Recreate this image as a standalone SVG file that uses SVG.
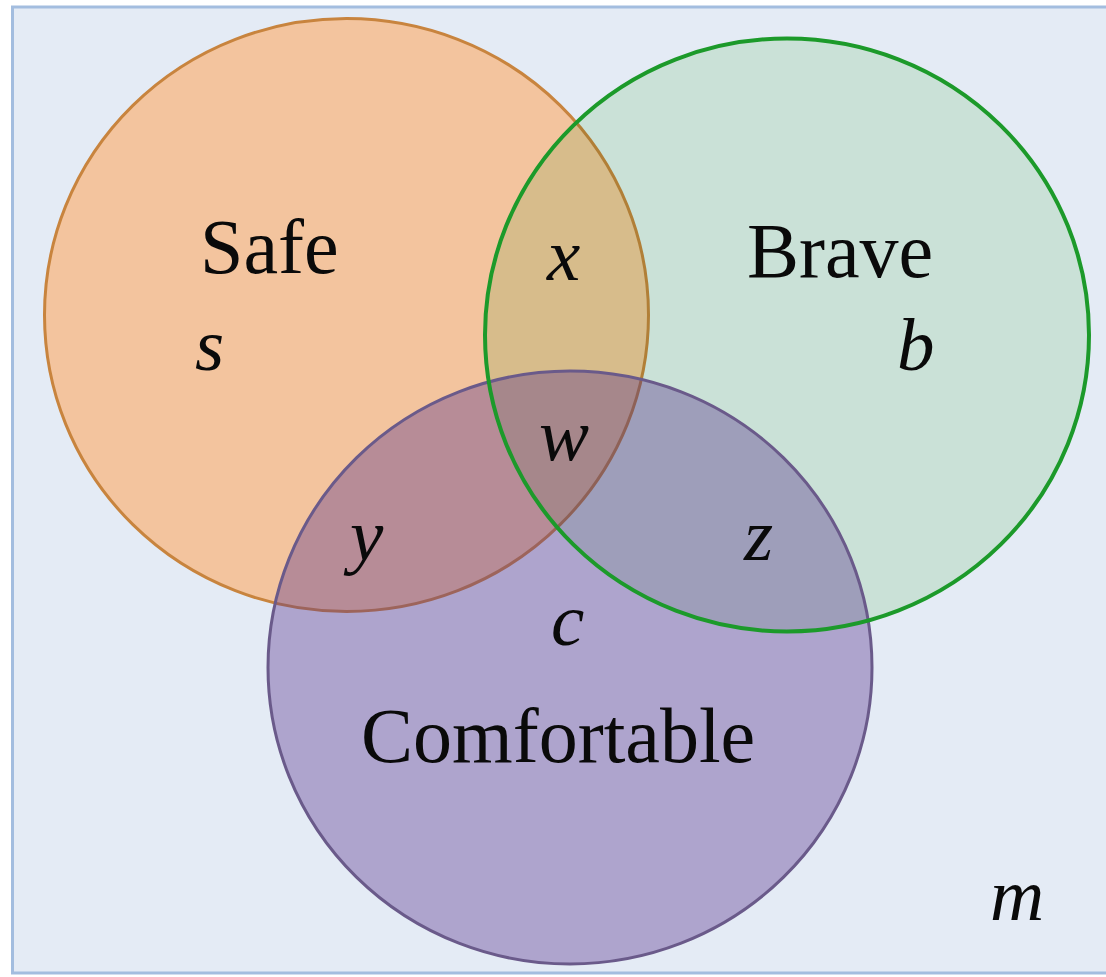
<svg xmlns="http://www.w3.org/2000/svg" width="1106" height="977" viewBox="0 0 1106 977">
<style>
.lbl{font-family:"Liberation Serif","Times New Roman",serif;font-size:78px;fill:#0a0a0a;}
.var{font-family:"Liberation Serif","Times New Roman",serif;font-size:75px;font-style:italic;fill:#0a0a0a;}
</style>
<rect x="12.5" y="7" width="1100" height="966" fill="#E4EBF5" stroke="#A3BDDF" stroke-width="3"/>
<g id="safe">
<ellipse cx="346.5" cy="315" rx="302" ry="296.5" fill="#F3C49E" stroke="#C8843E" stroke-width="3"/>
</g>
<g id="brave-fill">
<ellipse cx="787" cy="335" rx="302" ry="296.5" fill="#E2F5E0" style="mix-blend-mode:multiply"/>
</g>
<g id="comfortable">
<ellipse cx="570" cy="667.5" rx="302" ry="296.5" fill="#58338C" fill-opacity="0.38" stroke="#6A5A8A" stroke-width="3"/>
</g>
<g id="brave">
<ellipse cx="787" cy="335" rx="302" ry="296.5" fill="none" stroke="#1C9A2A" stroke-width="4"/>
</g>
<g id="labels">
<text class="lbl" x="200" y="273">Safe</text>
<text class="lbl" x="747" y="277">Brave</text>
<text class="lbl" x="361" y="762">Comfortable</text>
<text class="var" x="195" y="370">s</text>
<text class="var" x="547" y="280">x</text>
<text class="var" x="897" y="370">b</text>
<text class="var" x="539" y="460">w</text>
<text class="var" x="350" y="560">y</text>
<text class="var" x="744" y="560">z</text>
<text class="var" x="551" y="645">c</text>
<text class="var" x="990" y="920">m</text>
</g>
</svg>
